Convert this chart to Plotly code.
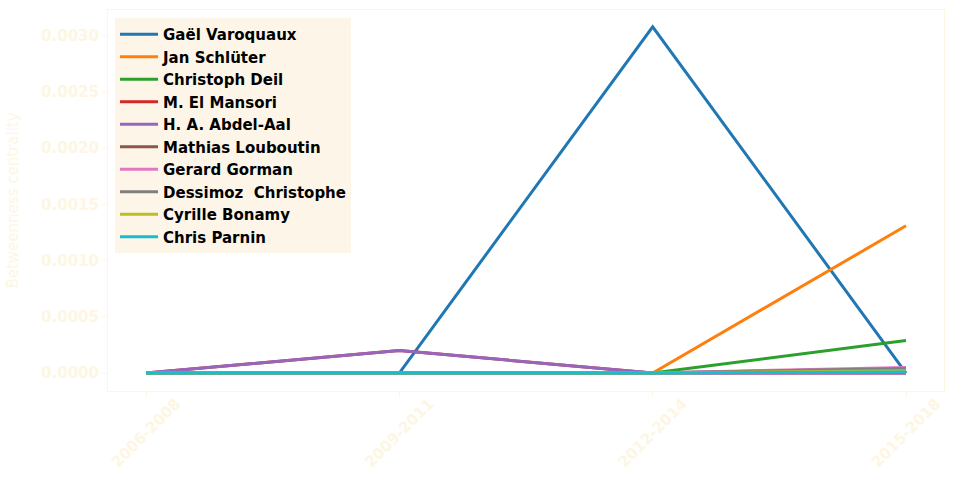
import plotly.graph_objects as go

periods = ["2006-2008", "2009-2011", "2012-2014", "2015-2018"]
names = ["Gaël Varoquaux", "Jan Schlüter", "Christoph Deil", "M. El Mansori",
         "H. A. Abdel-Aal", "Mathias Louboutin", "Gerard Gorman",
         "Dessimoz  Christophe", "Cyrille Bonamy", "Chris Parnin"]
values = [
    [0.0, 0.0, 0.00308, 0.0],
    [0.0, 0.0, 0.0, 0.00131],
    [0.0, 0.0, 0.0, 0.00029],
    [0.0, 0.0002, 0.0, 0.0],
    [0.0, 0.0002, 0.0, 0.0],
    [0.0, 0.0, 0.0, 0.00004],
    [0.0, 0.0, 0.0, 0.00005],
    [0.0, 0.0, 0.0, 0.00004],
    [0.0, 0.0, 0.0, 0.00002],
    [0.0, 0.0, 0.0, 0.00001],
]
colors = ["#1f77b4", "#ff7f0e", "#2ca02c", "#d62728", "#9467bd",
          "#8c564b", "#e377c2", "#7f7f7f", "#bcbd22", "#17becf"]
yticks = [0.0, 0.0005, 0.0010, 0.0015, 0.0020, 0.0025, 0.0030]

cream = "#fdf6e3"
fig = go.Figure()
for n, v, c in zip(names, values, colors):
    fig.add_trace(go.Scatter(x=list(range(len(periods))), y=v, name=n, mode="lines",
                             line=dict(color=c, width=3)))

fig.update_layout(
    width=955, height=479,
    margin=dict(l=108, r=11, t=10, b=88, autoexpand=False),
    plot_bgcolor="white", paper_bgcolor="white",
    font=dict(family="DejaVu Sans", size=15, color=cream),
    showlegend=True,
    legend=dict(x=0.0084, y=0.979, xanchor="left", yanchor="top",
                bgcolor="#fdf6e8", borderwidth=0,
                font=dict(family="DejaVu Sans", size=15, color="black", weight="bold"),
                tracegroupgap=0, itemwidth=38),
)
fig.update_xaxes(
    range=[-0.15, 3.15], tickmode="array", tickvals=list(range(len(periods))),
    ticktext=periods, tickangle=-45, ticklabelshift=30, ticklabelstandoff=-8,
    automargin=False,
    tickfont=dict(family="DejaVu Sans", size=15, color=cream, weight="bold"),
    showgrid=False, zeroline=False, showline=True, linecolor=cream, linewidth=1,
    mirror=True, ticks="outside", ticklen=5, tickcolor=cream,
)
fig.update_yaxes(
    range=[-0.00016, 0.00323], tickmode="array", tickvals=yticks,
    ticktext=[f"{t:.4f}" for t in yticks], automargin=False,
    tickfont=dict(family="DejaVu Sans", size=15, color=cream, weight="bold"),
    title=dict(text="Betweenness centrality", font=dict(family="DejaVu Sans", size=15, color=cream), standoff=18),
    showgrid=False, zeroline=False, showline=True, linecolor=cream, linewidth=1,
    mirror=True, ticks="outside", ticklen=5, tickcolor=cream,
)
fig.write_html("out.html")
